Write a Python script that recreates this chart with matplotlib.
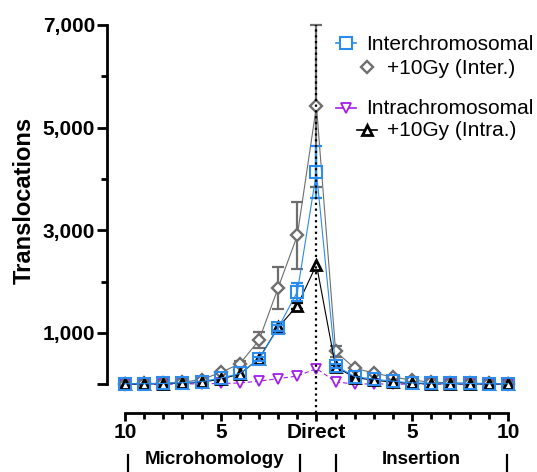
import numpy as np
import matplotlib.pyplot as plt

plt.rcParams['font.family'] = ['Liberation Sans', 'DejaVu Sans']

# ---- data (distance from junction: -10..-1 microhomology, 0 direct, 1..10 insertion)
positions = np.arange(-10, 11)

inter = [10, 10, 15, 30, 50, 120, 210, 490, 1100, 1800, 4130,
         360, 150, 100, 60, 25, 20, 15, 15, 10, 10]
inter_err = [0, 0, 0, 0, 0, 0, 0, 40, 60, 170, 510,
             40, 0, 0, 0, 0, 0, 0, 0, 0, 0]

gy_inter = [10, 15, 20, 40, 90, 230, 400, 860, 1880, 2900, 5420,
            640, 310, 220, 140, 80, 40, 30, 20, 15, 10]
gy_inter_err = [0, 0, 0, 0, 0, 0, 50, 150, 410, 650, 1580,
                100, 30, 0, 0, 0, 0, 0, 0, 0, 0]

intra = [0, 0, 0, 5, 10, 15, 25, 60, 110, 160, 305,
         50, 0, 10, 0, 5, 5, 5, 5, 5, 5]

gy_intra = [5, 5, 10, 20, 40, 100, 200, 500, 1110, 1530, 2330,
            340, 130, 80, 40, 15, 10, 10, 5, 5, 5]
gy_intra_err = [0, 0, 0, 0, 0, 0, 0, 0, 0, 60, 0,
                30, 20, 0, 0, 0, 0, 0, 0, 0, 0]

xtick_pos = [-10, -5, 0, 5, 10]
xtick_labels = ['10', '5', 'Direct', '5', '10']
ytick_pos = [0, 1000, 3000, 5000, 7000]
ytick_labels = ['', '1,000', '3,000', '5,000', '7,000']

BLUE = '#2B8CEE'
GRAY = '#6E6E6E'
PURPLE = '#A21EEB'
BLACK = '#000000'

W, H = 537, 472
fig = plt.figure(figsize=(W / 100, H / 100), dpi=100)


def px_box(l, t, r, b):
    return [l / W, 1 - b / H, (r - l) / W, (b - t) / H]


ax = fig.add_axes(px_box(107, 25, 520, 413))


def series(y, err, color, marker, ms, mew, ls, z, mfc='white'):
    y = np.asarray(y, float)
    ax.plot(positions, y, color=color, lw=0.8, ls=ls, marker=marker, ms=ms,
            mfc=mfc, mec=color, mew=mew, zorder=z, clip_on=False)
    if err is not None:
        err = np.asarray(err, float)
        m = err > 0
        ax.errorbar(positions[m], y[m], yerr=err[m], fmt='none', ecolor=color,
                     elinewidth=1.6, capsize=4.5, capthick=1.6, zorder=z - 0.5,
                     clip_on=False)


ax.axvline(0, color='k', lw=1.6, ls=(0, (1, 1.6)), zorder=6)

series(intra, None, PURPLE, 'v', 7.5, 1.3, (0, (4, 2.5)), 2)
series(gy_inter, gy_inter_err, GRAY, 'D', 6.6, 1.7, '-', 3)
series(gy_intra, gy_intra_err, BLACK, '^', 6.6, 2.0, '-', 4)
series(inter, inter_err, BLUE, 's', 8.0, 1.5, '-', 5, mfc='none')

ax.set_xlim(-10.94, 10.63)
ax.set_ylim(-560, 7000)

for s in ['top', 'right']:
    ax.spines[s].set_visible(False)
ax.spines['left'].set_bounds(0, 7000)
ax.spines['bottom'].set_bounds(-10, 10)
for s in ['left', 'bottom']:
    ax.spines[s].set_linewidth(2.0)

ax.set_xticks(xtick_pos)
ax.set_xticklabels(xtick_labels, fontsize=15, fontweight='bold')
ax.set_xticks(positions, minor=True)
ax.set_yticks(ytick_pos)
ax.set_yticklabels(ytick_labels, fontsize=15, fontweight='bold')
ax.set_yticks([2000, 4000, 6000], minor=True)
ax.tick_params(axis='x', which='major', length=6, width=2, pad=1.5)
ax.tick_params(axis='x', which='minor', length=4.5, width=2)
ax.tick_params(axis='y', which='major', length=7, width=2, pad=1.5)
ax.tick_params(axis='y', which='minor', length=4, width=2)

# ---- overlay in pixel coordinates for labels, brackets, legend
ov = fig.add_axes([0, 0, 1, 1])
ov.set_xlim(0, W)
ov.set_ylim(H, 0)
ov.axis('off')

ov.text(24, 200, 'Translocations', rotation=90, ha='center', va='center',
        fontsize=17, fontweight='bold')
ov.text(214, 459, 'Microhomology', ha='center', va='center',
        fontsize=13.5, fontweight='bold')
ov.text(421, 459, 'Insertion', ha='center', va='center',
        fontsize=13.5, fontweight='bold')
for bx in [128, 300, 336, 507]:
    ov.plot([bx, bx], [455, 474], color='k', lw=1.6, clip_on=False)

legend_entries = [
    ('Interchromosomal', BLUE, 's', 8.0, 1.5, 346, 43, True),
    ('+10Gy (Inter.)', GRAY, 'D', 6.6, 1.7, 367, 67, False),
    ('Intrachromosomal', PURPLE, 'v', 7.5, 1.3, 346, 108, True),
    ('+10Gy (Intra.)', BLACK, '^', 6.6, 2.0, 367, 130, True),
]
for label, c, mk, ms, mew, lx, ly, seg in legend_entries:
    if seg:
        ov.plot([lx - 10, lx + 10], [ly, ly], color=c, lw=1.2)
    ov.plot([lx], [ly], marker=mk, ms=ms, mfc='white', mec=c, mew=mew)
    ov.text(lx + 20, ly + 1, label, ha='left', va='center', fontsize=15)

fig.savefig('out.png', dpi=100)
